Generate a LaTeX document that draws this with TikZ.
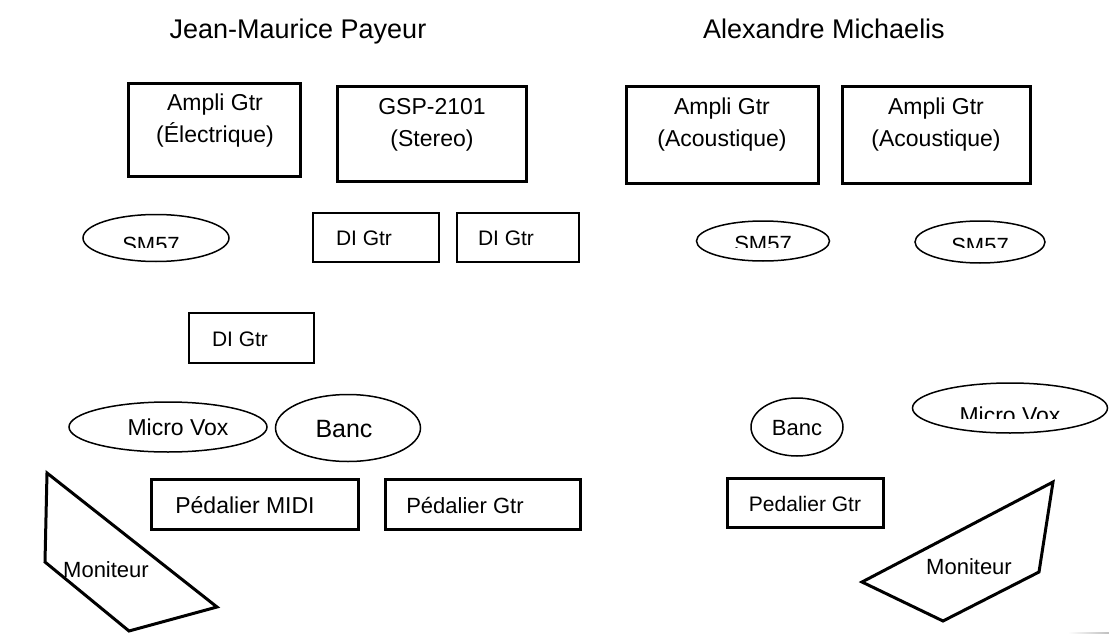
\documentclass[tikz,border=0pt]{standalone}
\usepackage{fontspec}
\setmainfont{Liberation Sans}
\usetikzlibrary{shapes.geometric}
\begin{document}
\begin{tikzpicture}[x=1pt,y=-1pt,
  thickbox/.style={draw,line width=3pt,rectangle,inner sep=0pt},
  thinbox/.style={draw,line width=1.5pt,rectangle,inner sep=0pt},
  oval/.style={draw,line width=1.5pt,ellipse,inner sep=0pt},
  lbl/.style={font=\fontsize{23}{32}\selectfont,align=center,inner sep=0pt},
  sml/.style={font=\fontsize{21}{25}\selectfont,inner sep=0pt,anchor=base},
  ttl/.style={font=\fontsize{27}{32}\selectfont,inner sep=0pt,anchor=base},
  mon/.style={draw,line width=3pt,line join=miter}
]
\useasboundingbox (0,0) rectangle (1109,634);
% titles
\node[ttl] (t1) at (298,39) {Jean-Maurice Payeur};
\node[ttl] (t2) at (824,39) {Alexandre Michaelis};
% top boxes
\node[thickbox,minimum width=172pt,minimum height=92pt] (ampE) at (214,130) {};
\node[lbl] (ampEt) at (215,121) {Ampli Gtr\\(Électrique)};
\node[thickbox,minimum width=189pt,minimum height=95pt] (gsp) at (432,134) {};
\node[lbl] (gspt) at (432,125) {GSP-2101\\(Stereo)};
\node[thickbox,minimum width=192pt,minimum height=96pt] (ac1) at (722,135) {};
\node[lbl] (ac1t) at (722,125) {Ampli Gtr\\(Acoustique)};
\node[thickbox,minimum width=188pt,minimum height=96pt] (ac2) at (936,135) {};
\node[lbl] (ac2t) at (936,125) {Ampli Gtr\\(Acoustique)};
% SM57 ellipses
\node[oval,minimum width=146pt,minimum height=47pt] (sm1) at (156,238) {};
\node[oval,minimum width=133pt,minimum height=40pt] (sm2) at (763,241) {};
\node[oval,minimum width=130pt,minimum height=42pt] (sm3) at (980,242) {};
\begin{scope}
\clip (0,0) rectangle (1109,247);
\node[sml,font=\fontsize{22}{26}\selectfont] (sm1t) at (151,252) {SM57};
\node[sml,font=\fontsize{22}{26}\selectfont] (sm2t) at (763,251) {SM57};
\node[sml,font=\fontsize{22}{26}\selectfont] (sm3t) at (980,253) {SM57};
\end{scope}
% DI boxes
\node[thinbox,minimum width=126pt,minimum height=49pt] (di1) at (376,237.5) {};
\node[sml] (di1t) at (364,245) {DI Gtr};
\node[thinbox,minimum width=122pt,minimum height=49pt] (di2) at (518,237.5) {};
\node[sml] (di2t) at (506,245) {DI Gtr};
\node[thinbox,minimum width=125pt,minimum height=50pt] (di3) at (251.5,338) {};
\node[sml] (di3t) at (240,346) {DI Gtr};
% Micro Vox / Banc
\node[oval,minimum width=198pt,minimum height=50pt] (mv1) at (168,427) {};
\node[sml,font=\fontsize{23}{27}\selectfont] (mv1t) at (178,435) {Micro Vox};
\node[oval,minimum width=145pt,minimum height=67pt] (bc1) at (348,428) {};
\node[sml,font=\fontsize{25}{29}\selectfont] (bc1t) at (344,437) {Banc};
\node[oval,minimum width=92pt,minimum height=58pt] (bc2) at (797,427) {};
\node[sml,font=\fontsize{22}{26}\selectfont] (bc2t) at (797,435) {Banc};
\node[oval,minimum width=195pt,minimum height=50pt] (mv2) at (1010,408) {};
\begin{scope}
\clip (0,0) rectangle (1109,418);
\node[sml,font=\fontsize{23}{27}\selectfont] (mv2t) at (1010,423) {Micro Vox};
\end{scope}
% pedaliers
\node[thickbox,minimum width=207pt,minimum height=50pt] (pm) at (254.5,504) {};
\node[sml,font=\fontsize{23}{27}\selectfont] (pmt) at (245,513) {Pédalier MIDI};
\node[thickbox,minimum width=195pt,minimum height=50pt] (pg) at (482.5,504) {};
\node[sml,font=\fontsize{22}{26}\selectfont] (pgt) at (465,513) {Pédalier Gtr};
\node[thickbox,minimum width=156pt,minimum height=49pt] (pg2) at (805,502.5) {};
\node[sml] (pg2t) at (805,511) {Pedalier Gtr};
% monitors
\draw[mon] (47,473) -- (217,607) -- (129,631) -- (45,562) -- cycle;
\node[sml,font=\fontsize{22}{26}\selectfont] (m1t) at (106,577) {Moniteur};
\draw[mon] (1053,482) -- (1039,572) -- (943,621) -- (862,582) -- cycle;
\node[sml,font=\fontsize{22}{26}\selectfont] (m2t) at (969,574) {Moniteur};
% corner artifact
\shade[left color=white,right color=black!25] (1068,632) rectangle (1109,634);
\end{tikzpicture}
\end{document}
